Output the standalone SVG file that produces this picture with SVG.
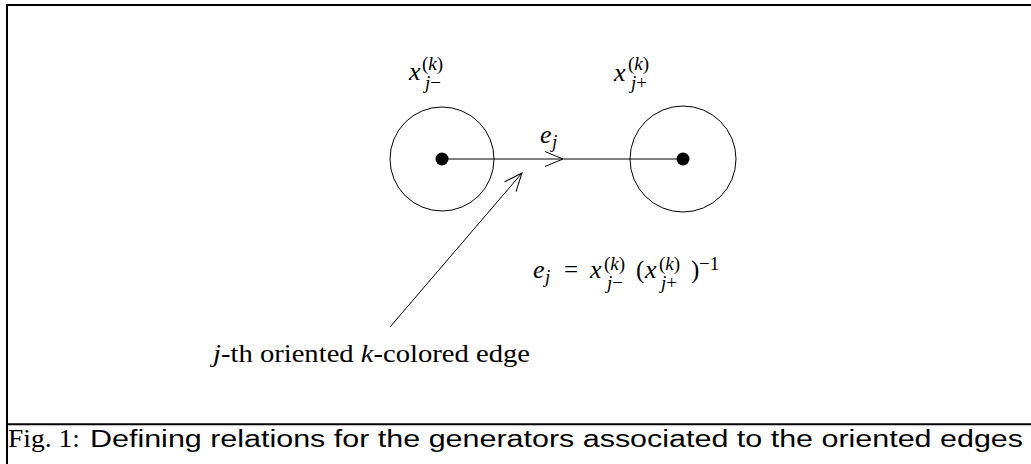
<svg xmlns="http://www.w3.org/2000/svg" width="1031" height="464" viewBox="0 0 1031 464">
<style>
.m{font-family:"Liberation Serif",serif;font-style:italic;font-size:26px;fill:#000}
.s{font-family:"Liberation Serif",serif;font-style:italic;font-size:19px;fill:#000}
.u{font-family:"Liberation Serif",serif;font-size:19px;fill:#000}
.r{font-family:"Liberation Serif",serif;font-size:25px;fill:#000}
.l{stroke:#000;stroke-width:1;fill:none}
.c{stroke:#000;stroke-width:1;fill:none}
</style>
<defs>
<marker id="ah" markerUnits="userSpaceOnUse" markerWidth="40" markerHeight="40" viewBox="-20 -20 40 40" refX="0" refY="0" orient="auto">
<path d="M-18,-7.5 L0,0 L-18,7.5" fill="none" stroke="#000" stroke-width="1"/>
</marker>
</defs>
<rect x="7" y="5" width="1040" height="480" fill="none" stroke="#000" stroke-width="2"/>
<line x1="7" y1="424.3" x2="1031" y2="424.3" stroke="#000" stroke-width="2"/>
<g id="connectors">
<line class="l" x1="442" y1="159" x2="563" y2="159" marker-end="url(#ah)"/>
<line class="l" x1="563" y1="159" x2="683" y2="159"/>
<line class="l" x1="390" y1="327" x2="522" y2="173" marker-end="url(#ah)"/>
</g>
<g id="node-left">
<circle class="c" cx="442" cy="159" r="52"/>
<circle cx="442" cy="159" r="6.5" fill="#000"/>
<text class="m" x="409" y="80">x</text>
<text class="u" x="422" y="70">(<tspan font-style="italic">k</tspan>)</text>
<text class="s" x="425" y="89">j<tspan font-style="normal">−</tspan></text>
</g>
<g id="node-right">
<circle class="c" cx="683" cy="159" r="53"/>
<circle cx="683" cy="159" r="6.5" fill="#000"/>
<text class="m" x="614" y="81">x</text>
<text class="u" x="628" y="70">(<tspan font-style="italic">k</tspan>)</text>
<text class="s" x="631" y="89">j<tspan font-style="normal">+</tspan></text>
</g>
<g id="edge-label">
<text class="m" x="540" y="143">e</text>
<text class="s" x="552" y="148">j</text>
</g>
<g id="formula">
<text class="m" x="533" y="278">e</text>
<text class="s" x="545" y="283">j</text>
<text class="r" x="564" y="278">=</text>
<text class="m" x="590" y="278">x</text>
<text class="u" x="604" y="270">(<tspan font-style="italic">k</tspan>)</text>
<text class="s" x="607" y="289">j<tspan font-style="normal">−</tspan></text>
<text class="r" x="636" y="278">(</text>
<text class="m" x="645" y="278">x</text>
<text class="u" x="659" y="270">(<tspan font-style="italic">k</tspan>)</text>
<text class="s" x="661" y="289">j<tspan font-style="normal">+</tspan></text>
<text class="r" x="691" y="278">)</text>
<text class="u" x="699" y="270">−1</text>
</g>
<g id="annotation">
<text class="r" x="213" y="362" textLength="317" lengthAdjust="spacingAndGlyphs"><tspan font-style="italic">j</tspan>-th oriented <tspan font-style="italic">k</tspan>-colored edge</text>
</g>
<g id="caption">
<text class="r" x="8" y="447" textLength="72" lengthAdjust="spacingAndGlyphs">Fig. 1:</text>
<text x="90" y="447" font-family="'Liberation Sans',sans-serif" font-size="23" textLength="933" lengthAdjust="spacingAndGlyphs">Defining relations for the generators associated to the oriented edges</text>
</g>
</svg>
